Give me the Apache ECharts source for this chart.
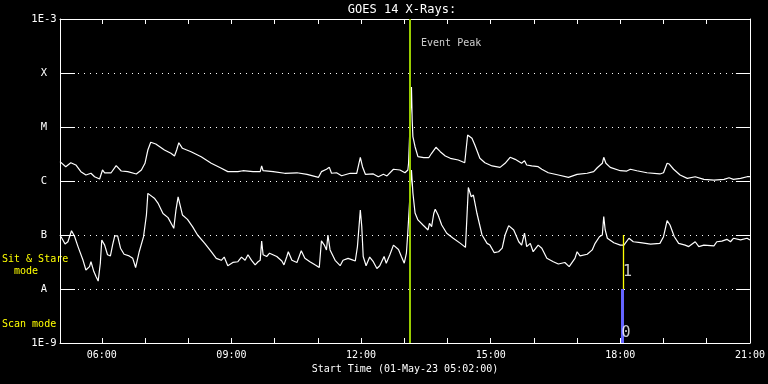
<!DOCTYPE html>
<html><head><meta charset="utf-8">
<script src="https://cdn.jsdelivr.net/npm/echarts@6/dist/echarts.min.js"></script>
<style>html,body{margin:0;padding:0;background:#000}#c{width:768px;height:384px}</style>
</head><body><div id="c"></div>
<script>
// ---- data ----
const titleText = 'GOES 14 X-Rays:';
const xAxisTitle = 'Start Time (01-May-23 05:02:00)';
const startTime = '05:02';
const endTime = '21:00';
const hourTicks = ['06:00','07:00','08:00','09:00','10:00','11:00','12:00','13:00','14:00','15:00','16:00','17:00','18:00','19:00','20:00','21:00'];
const labelTicks = ['06:00','09:00','12:00','15:00','18:00','21:00'];
const yTickLabels = {'-3':'1E-3','-4':'X','-5':'M','-6':'C','-7':'B','-8':'A','-9':'1E-9'};

// long channel (upper curve), W/m^2
const upperTimes = [
 '05:02','05:10','05:17','05:24','05:31','05:38','05:45','05:50','05:57','06:01',
 '06:04','06:13','06:20','06:27','06:36','06:48','06:55','07:00','07:04','07:08',
 '07:15','07:27','07:36','07:41','07:44','07:47','07:52','08:04','08:18','08:32',
 '08:46','08:55','09:09','09:16','09:30','09:40','09:42','09:44','09:58','10:14',
 '10:31','10:45','11:01','11:05','11:12','11:16','11:19','11:26','11:33','11:45',
 '11:54','11:59','12:02','12:06','12:17','12:24','12:31','12:36','12:45','12:54',
 '13:01','13:05','13:06','13:10','13:11','13:12','13:15','13:19','13:27','13:34',
 '13:38','13:44','13:50','13:57','14:04','14:15','14:24','14:28','14:34','14:38',
 '14:45','14:52','15:02','15:13','15:20','15:27','15:34','15:43','15:47','15:50',
 '15:57','16:06','16:11','16:20','16:34','16:48','17:00','17:14','17:23','17:28',
 '17:35','17:37','17:40','17:46','18:00','18:09','18:14','18:23','18:37','18:55',
 '19:00','19:05','19:08','19:14','19:23','19:33','19:44','19:56','20:10','20:24',
 '20:31','20:37','20:47','20:56','21:00'];
const upperFlux = [
 2.28e-6,1.84e-6,2.18e-6,1.98e-6,1.49e-6,1.29e-6,1.39e-6,1.20e-6,1.09e-6,1.60e-6,
 1.42e-6,1.42e-6,1.92e-6,1.53e-6,1.49e-6,1.35e-6,1.60e-6,2.13e-6,3.75e-6,5.21e-6,
 4.84e-6,3.75e-6,3.26e-6,2.90e-6,3.75e-6,5.12e-6,4.03e-6,3.49e-6,2.82e-6,2.13e-6,
 1.72e-6,1.49e-6,1.49e-6,1.55e-6,1.49e-6,1.49e-6,1.90e-6,1.55e-6,1.49e-6,1.39e-6,
 1.42e-6,1.33e-6,1.17e-6,1.49e-6,1.65e-6,1.79e-6,1.39e-6,1.42e-6,1.25e-6,1.39e-6,
 1.39e-6,2.75e-6,1.84e-6,1.33e-6,1.35e-6,1.20e-6,1.33e-6,1.24e-6,1.65e-6,1.60e-6,
 1.42e-6,1.60e-6,2.13e-6,5.51e-5,1.35e-5,6.6e-6,4.31e-6,2.82e-6,2.70e-6,2.70e-6,
 3.26e-6,4.21e-6,3.49e-6,2.90e-6,2.63e-6,2.45e-6,2.18e-6,7.11e-6,6.18e-6,4.64e-6,
 2.63e-6,2.18e-6,1.90e-6,1.79e-6,2.13e-6,2.75e-6,2.52e-6,2.13e-6,2.38e-6,1.98e-6,
 1.90e-6,1.84e-6,1.65e-6,1.42e-6,1.29e-6,1.17e-6,1.33e-6,1.39e-6,1.49e-6,1.76e-6,
 2.13e-6,2.75e-6,2.13e-6,1.79e-6,1.55e-6,1.53e-6,1.65e-6,1.55e-6,1.42e-6,1.35e-6,
 1.42e-6,2.13e-6,2.06e-6,1.65e-6,1.29e-6,1.12e-6,1.20e-6,1.07e-6,1.04e-6,1.07e-6,
 1.15e-6,1.07e-6,1.12e-6,1.20e-6,1.20e-6];

// short channel (lower curve), W/m^2
const lowerTimes = [
 '05:02','05:06','05:09','05:13','05:18','05:22','05:27','05:34','05:38','05:43',
 '05:45','05:49','05:52','05:55','05:58','06:00','06:04','06:08','06:12','06:15',
 '06:18','06:22','06:26','06:31','06:38','06:43','06:47','06:52','06:58','07:02',
 '07:04','07:06','07:13','07:18','07:25','07:32','07:40','07:43','07:46','07:48',
 '07:52','07:59','08:06','08:13','08:23','08:32','08:39','08:46','08:50','08:55',
 '09:02','09:09','09:14','09:19','09:23','09:28','09:33','09:37','09:40','09:42',
 '09:44','09:49','09:53','10:03','10:10','10:13','10:17','10:19','10:24','10:31',
 '10:37','10:42','10:49','10:56','11:02','11:05','11:09','11:12','11:14','11:17',
 '11:24','11:31','11:35','11:42','11:47','11:52','11:55','11:59','12:01','12:03',
 '12:07','12:12','12:17','12:22','12:26','12:32','12:35','12:40','12:45','12:52',
 '12:56','13:00','13:03','13:05','13:06','13:10','13:12','13:15','13:19','13:26',
 '13:33','13:35','13:38','13:41','13:43','13:47','13:52','13:59','14:08','14:18',
 '14:25','14:29','14:33','14:36','14:41','14:48','14:55','14:59','15:05','15:11',
 '15:16','15:20','15:25','15:32','15:39','15:43','15:47','15:50','15:55','15:59',
 '16:06','16:11','16:18','16:27','16:34','16:43','16:49','16:57','17:00','17:04',
 '17:14','17:21','17:25','17:31','17:35','17:37','17:39','17:42','17:51','18:00',
 '18:05','18:12','18:18','18:28','18:42','18:55','19:00','19:05','19:09','19:15',
 '19:21','19:30','19:35','19:44','19:49','19:56','20:10','20:14','20:21','20:28',
 '20:33','20:37','20:47','20:56','21:00'];
const lowerFlux = [
 1.00e-7,8.1e-8,6.8e-8,7.5e-8,1.20e-7,9.6e-8,6.1e-8,3.4e-8,2.25e-8,2.6e-8,
 3.2e-8,2.1e-8,1.7e-8,1.4e-8,3.0e-8,8.1e-8,6.5e-8,4.3e-8,4.1e-8,6.5e-8,
 9.6e-8,9.6e-8,5.7e-8,4.4e-8,4.1e-8,3.7e-8,2.5e-8,4.9e-8,9.3e-8,2.35e-7,
 5.9e-7,6.1e-7,4.8e-7,3.9e-7,2.5e-7,2.1e-7,1.33e-7,2.9e-7,5.1e-7,4.8e-7,
 2.35e-7,1.95e-7,1.43e-7,1.0e-7,7.0e-8,4.9e-8,3.7e-8,3.4e-8,3.9e-8,2.7e-8,
 3.1e-8,3.2e-8,3.9e-8,3.4e-8,4.3e-8,3.4e-8,2.8e-8,3.2e-8,3.4e-8,7.7e-8,
 4.3e-8,4.0e-8,4.6e-8,4.0e-8,3.3e-8,2.8e-8,4.0e-8,4.9e-8,3.4e-8,3.1e-8,
 5.1e-8,3.7e-8,3.2e-8,2.8e-8,2.5e-8,7.8e-8,6.5e-8,5.3e-8,1.0e-7,5.3e-8,
 3.4e-8,2.7e-8,3.4e-8,3.7e-8,3.5e-8,3.3e-8,6.1e-8,2.9e-7,1.43e-7,4.0e-8,
 2.7e-8,3.9e-8,3.2e-8,2.4e-8,2.7e-8,4.0e-8,3.0e-8,4.3e-8,6.5e-8,5.4e-8,
 4.0e-8,3.0e-8,4.6e-8,1.15e-7,1.24e-7,1.6e-6,6.0e-7,2.55e-7,1.9e-7,1.53e-7,
 1.24e-7,1.65e-7,1.43e-7,2.5e-7,3.0e-7,2.35e-7,1.53e-7,1.08e-7,8.7e-8,7.0e-8,
 5.9e-8,7.6e-7,5.1e-7,5.5e-7,2.5e-7,1.0e-7,7.0e-8,6.5e-8,4.7e-8,4.9e-8,
 5.7e-8,1.0e-7,1.49e-7,1.24e-7,7.5e-8,6.5e-8,1.08e-7,6.1e-8,7.0e-8,4.9e-8,
 6.5e-8,5.7e-8,3.7e-8,3.2e-8,2.9e-8,3.1e-8,2.6e-8,3.7e-8,4.9e-8,4.1e-8,
 4.4e-8,5.3e-8,7.0e-8,9.3e-8,1.0e-7,2.2e-7,1.24e-7,8.7e-8,7.2e-8,6.5e-8,
 6.5e-8,8.7e-8,7.5e-8,7.2e-8,6.8e-8,7.0e-8,9.3e-8,1.84e-7,1.53e-7,9.3e-8,
 7.0e-8,6.5e-8,6.1e-8,7.5e-8,6.1e-8,6.5e-8,6.3e-8,7.5e-8,7.7e-8,8.3e-8,
 7.5e-8,8.7e-8,8.1e-8,8.7e-8,8.1e-8];

// annotations
const eventPeakTime = '13:08';
const eventPeakLabel = 'Event Peak';
const eventLabelLevel = 3.6e-4;
const modeTime = '18:03';
const sitStareTime = '18:04';
const scanModeRange = [1e-9, 1e-8];
const sitStareRange = [1e-8, 1e-7];
const modeValueLabels = [ {time:'18:08', level:1.53e-9, text:'0'}, {time:'18:10', level:2.07e-8, text:'1'} ];
const modeAxisTexts = ['Sit & Stare\n  mode', 'Scan mode'];

// ---- helpers ----
function toMin(s){ const p = s.split(':').map(Number); return p[0]*60 + p[1]; }
function fmt(m){ const h = Math.floor(m/60), mm = Math.round(m%60); return String(h).padStart(2,'0') + ':' + String(mm).padStart(2,'0'); }
const FONT = 'DejaVu Sans Mono';
const WHITE = '#ffffff';
const xmin = toMin(startTime), xmax = toMin(endTime);

const chart = echarts.init(document.getElementById('c'), null, {renderer:'canvas'});
const pair = (ts, vs) => ts.map((t,i) => [toMin(t), vs[i]]);

const option = {
  backgroundColor: '#000000',
  animation: false,
  grid: { left: 60, right: 18, top: 19, bottom: 41 },
  graphic: [
    { type:'text', x: 402, y: 10, style:{ text: titleText, fill: WHITE, font: '12px ' + FONT, align:'center', verticalAlign:'middle' } },
    { type:'text', x: 2, y: 253, style:{ text: modeAxisTexts[0], fill: '#ffff00', font: '10px ' + FONT, lineHeight: 12, align:'left', verticalAlign:'top' } },
    { type:'text', x: 2, y: 324, style:{ text: modeAxisTexts[1], fill: '#ffff00', font: '10px ' + FONT, align:'left', verticalAlign:'middle' } }
  ],
  xAxis: [
    { type:'value', position:'bottom', min: xmin, max: xmax,
      axisLine:{ show:true, lineStyle:{ color: WHITE, width:1 } },
      axisTick:{ show:true, inside:true, length:5, customValues: hourTicks.map(toMin), lineStyle:{ color: WHITE } },
      axisLabel:{ show:true, customValues: labelTicks.map(toMin), formatter: v => fmt(v), color: WHITE, fontSize: 10, fontFamily: FONT, margin: 7 },
      splitLine:{ show:false },
      name: xAxisTitle, nameLocation:'middle', nameGap: 20,
      nameTextStyle:{ color: WHITE, fontSize: 10, fontFamily: FONT } },
    { type:'value', position:'top', min: xmin, max: xmax,
      axisLine:{ show:true, lineStyle:{ color: WHITE, width:1 } },
      axisTick:{ show:true, inside:true, length:5, customValues: hourTicks.map(toMin), lineStyle:{ color: WHITE } },
      axisLabel:{ show:false }, splitLine:{ show:false } }
  ],
  yAxis: [
    { type:'log', logBase:10, min:1e-9, max:1e-3, position:'left',
      axisLine:{ show:true, lineStyle:{ color: WHITE, width:1 } },
      axisTick:{ show:true, inside:true, length:15, lineStyle:{ color: WHITE } },
      axisLabel:{ show:true, color: WHITE, fontSize: 10.5, fontFamily: FONT, align:'center', margin: 16,
        formatter: v => yTickLabels[String(Math.round(Math.log10(v)))] || '' },
      splitLine:{ show:true, lineStyle:{ color: WHITE, width:1, type:[1,5] } },
      minorTick:{ show:false } },
    { type:'log', logBase:10, min:1e-9, max:1e-3, position:'right',
      axisLine:{ show:true, lineStyle:{ color: WHITE, width:1 } },
      axisTick:{ show:true, inside:true, length:14, lineStyle:{ color: WHITE } },
      axisLabel:{ show:false }, splitLine:{ show:false } }
  ],
  series: [
    { name:'long', type:'line', xAxisIndex:0, yAxisIndex:0, data: pair(upperTimes, upperFlux),
      showSymbol:false, symbol:'none', lineStyle:{ color: WHITE, width:1.2 }, z:2, silent:true },
    { name:'short', type:'line', xAxisIndex:0, yAxisIndex:0, data: pair(lowerTimes, lowerFlux),
      showSymbol:false, symbol:'none', lineStyle:{ color: WHITE, width:1.2 }, z:2, silent:true },
    { name:'annot', type:'scatter', xAxisIndex:0, yAxisIndex:0, symbolSize:0, z:5, silent:true,
      data: [
        { value:[toMin(eventPeakTime), eventLabelLevel], label:{ show:true, formatter: eventPeakLabel, position:'right', distance: 11, color: WHITE, fontSize: 10, fontFamily: FONT } },
        ...modeValueLabels.map(m => ({ value:[toMin(m.time), m.level], label:{ show:true, formatter: m.text, position:'inside', color: WHITE, fontSize: 15, fontFamily: FONT } }))
      ],
      markLine: { symbol:'none', silent:true, animation:false, label:{ show:false },
        data: [
          [ { coord:[toMin(eventPeakTime), 1e-9], lineStyle:{ color:'#99cc00', width:2, type:'solid' } },
            { coord:[toMin(eventPeakTime), 1e-3] } ],
          [ { coord:[toMin(modeTime), scanModeRange[0]], lineStyle:{ color:'#6464ff', width:3, type:'solid' } },
            { coord:[toMin(modeTime), scanModeRange[1]] } ],
          [ { coord:[toMin(sitStareTime), sitStareRange[0]], lineStyle:{ color:'#ffff00', width:1.3, type:'solid' } },
            { coord:[toMin(sitStareTime), sitStareRange[1]] } ]
        ] } }
  ]
};
chart.setOption(option);
</script></body></html>
